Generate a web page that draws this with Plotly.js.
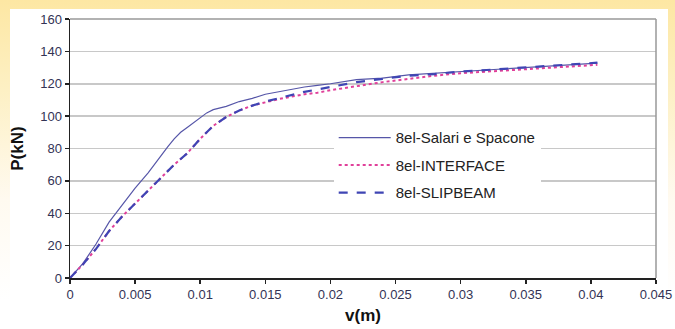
<!DOCTYPE html>
<html>
<head>
<meta charset="utf-8">
<script src="https://cdn.plot.ly/plotly-3.0.1.min.js"></script>
<style>
  html, body { margin: 0; padding: 0; }
  body {
    width: 675px; height: 329px; overflow: hidden; position: relative;
    background: linear-gradient(to bottom, #fde7a3 0px, #fdf0c4 90px, #fffaf0 200px, #ffffff 300px);
  }
  #panel { position: absolute; left: 10px; top: 9px; width: 658px; height: 330px; background: #ffffff; }
  #chart { position: absolute; left: 0; top: 0; width: 675px; height: 329px; }
</style>
</head>
<body>
<div id="panel"></div>
<div id="chart"></div>
<script>
// Salari e Spacone (solid)
const vSalari = [0, 0.001, 0.002, 0.003, 0.004, 0.005, 0.006, 0.007, 0.0075, 0.008, 0.0085, 0.009, 0.0095, 0.010, 0.0105, 0.011, 0.0115, 0.012, 0.013, 0.014, 0.015, 0.016, 0.017, 0.018, 0.019, 0.020, 0.022, 0.024, 0.026, 0.028, 0.030, 0.032, 0.034, 0.036, 0.038, 0.040, 0.0405];
const pSalari = [0, 9, 21, 34.5, 45, 55.5, 65, 76, 81, 86, 90, 93, 96, 99, 102, 104, 105, 106, 109, 111, 113.5, 115, 116.5, 118, 119, 120, 122.5, 123.5, 125.5, 126.5, 127.5, 128.5, 129.5, 130.5, 131.5, 132.5, 132.8];

// INTERFACE (dotted)
const vInterface = [0, 0.001, 0.002, 0.003, 0.004, 0.005, 0.006, 0.007, 0.008, 0.009, 0.010, 0.011, 0.012, 0.013, 0.014, 0.015, 0.016, 0.017, 0.018, 0.019, 0.020, 0.022, 0.024, 0.026, 0.028, 0.030, 0.032, 0.034, 0.036, 0.038, 0.040, 0.0405];
const pInterface = [0, 8.5, 18, 29, 38, 46, 54, 62, 70, 77, 86, 94, 99.5, 103.5, 106.5, 108.5, 110.5, 112, 113.5, 114.5, 116, 118.5, 121, 123, 125, 126.5, 127.5, 128.5, 129.5, 130.5, 131.5, 131.7];

// SLIPBEAM (dashed)
const vSlip = [0, 0.001, 0.002, 0.003, 0.004, 0.005, 0.006, 0.007, 0.008, 0.009, 0.010, 0.011, 0.012, 0.013, 0.014, 0.015, 0.016, 0.017, 0.018, 0.019, 0.020, 0.022, 0.024, 0.026, 0.028, 0.030, 0.032, 0.034, 0.036, 0.038, 0.040, 0.0405];
const pSlip = [0, 8.5, 18, 29, 38, 46, 54, 62, 70, 77, 86, 94, 99.5, 103.5, 106.5, 109, 111, 113, 115, 116.5, 118, 121, 123, 125, 126, 127.5, 128.5, 129.5, 130.5, 131.5, 132.5, 133];

const seriesNames = ['8el-Salari e Spacone', '8el-INTERFACE', '8el-SLIPBEAM'];
const xTicks = [0, 0.005, 0.01, 0.015, 0.02, 0.025, 0.03, 0.035, 0.04, 0.045];
const xTickText = ['0', '0.005', '0.01', '0.015', '0.02', '0.025', '0.03', '0.035', '0.04', '0.045'];
const yTicks = [0, 20, 40, 60, 80, 100, 120, 140, 160];

const traces = [
  { x: vSalari, y: pSalari, name: seriesNames[0], legendgroup: 'a', mode: 'lines',
    line: { color: '#5656a8', width: 1.2 } },
  { x: vInterface, y: pInterface, name: seriesNames[1], legendgroup: 'b', mode: 'lines',
    line: { color: '#e0409a', width: 2, dash: 'dot' } },
  { x: vSlip, y: pSlip, name: seriesNames[2], legendgroup: 'c', mode: 'lines',
    line: { color: '#3f45b4', width: 2.2, dash: 'dash' } }
];

const layout = {
  width: 675, height: 329,
  margin: { l: 70, r: 19, t: 19, b: 51, pad: 0 },
  paper_bgcolor: 'rgba(0,0,0,0)',
  plot_bgcolor: '#ffffff',
  font: { family: 'Liberation Sans, Arial, sans-serif', color: '#333344', size: 13 },
  showlegend: true,
  legend: {
    x: 0.45, y: 0.605, xanchor: 'left', yanchor: 'top',
    bgcolor: '#ffffff', borderwidth: 0,
    font: { size: 15, color: '#222222' },
    traceorder: 'grouped', tracegroupgap: 5,
    itemwidth: 52
  },
  xaxis: {
    range: [0, 0.045], tickvals: xTicks, ticktext: xTickText,
    showgrid: false, zeroline: false,
    showline: true, linecolor: '#222222', linewidth: 1.5, mirror: false,
    ticks: 'outside', ticklen: 4, tickcolor: '#222222', tickwidth: 1.5,
    tickfont: { size: 13, color: '#333355' },
    title: { text: '<b>v(m)</b>', font: { size: 17, color: '#111111' }, standoff: 8 }
  },
  yaxis: {
    range: [0, 160], tickvals: yTicks,
    showgrid: true, gridcolor: '#c8c8c8', gridwidth: 1.5, zeroline: false,
    showline: true, linecolor: '#222222', linewidth: 1.5,
    ticks: 'outside', ticklen: 4, tickcolor: '#222222', tickwidth: 1.5,
    tickfont: { size: 13, color: '#333355' },
    title: { text: '<b>P(kN)</b>', font: { size: 17, color: '#111111' }, standoff: 12 }
  },
  shapes: [
    { type: 'line', xref: 'paper', yref: 'paper', x0: 1, x1: 1, y0: 0, y1: 1,
      line: { color: '#999999', width: 1.5 } },
    { type: 'line', xref: 'paper', yref: 'paper', x0: 0, x1: 1, y0: 1, y1: 1,
      line: { color: '#999999', width: 1.5 } }
  ]
};

Plotly.newPlot('chart', traces, layout, { displayModeBar: false, staticPlot: true });
</script>
</body>
</html>
